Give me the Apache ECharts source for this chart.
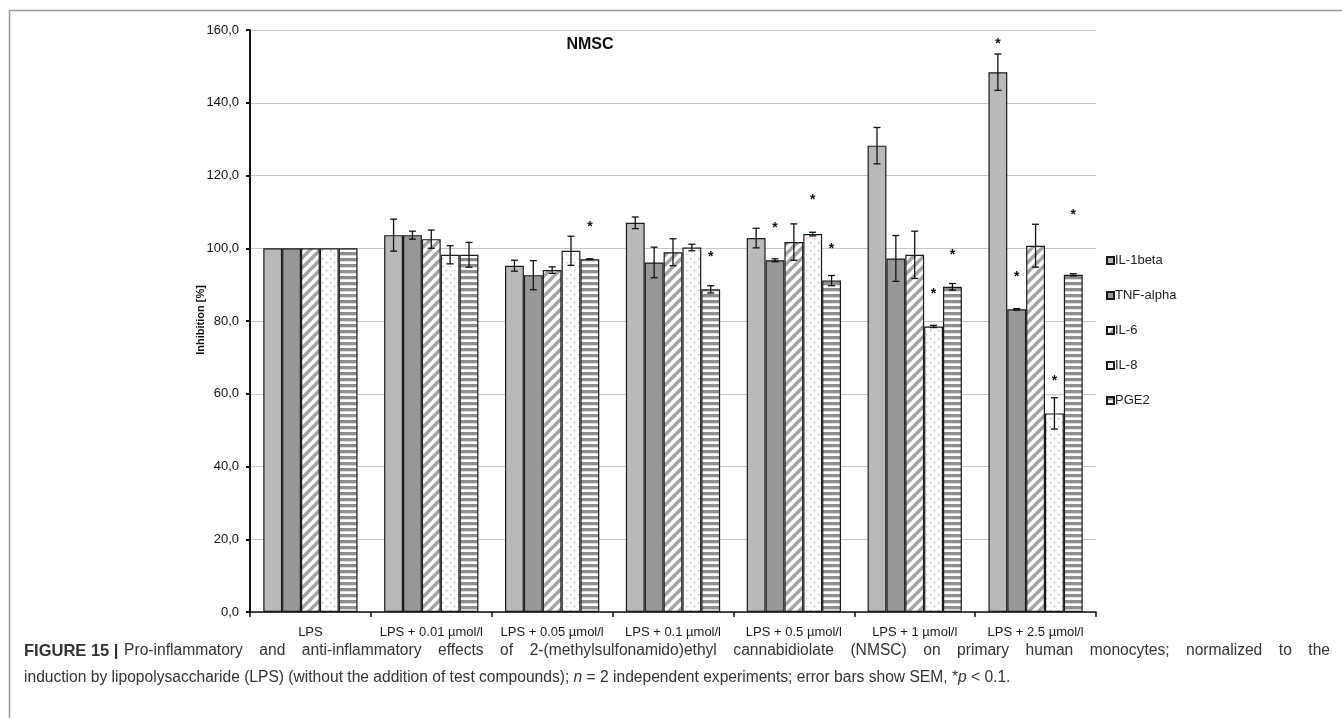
<!DOCTYPE html>
<html>
<head>
<meta charset="utf-8">
<script src="https://cdn.jsdelivr.net/npm/echarts/dist/echarts.min.js"></script>
<style>
html,body{margin:0;padding:0;background:#fff;}
#c{width:1342px;height:718px;}
</style>
</head>
<body>
<div id="c"></div>
<script>
// ---------- data ----------
const categories = ['LPS', 'LPS + 0.01 µmol/l', 'LPS + 0.05 µmol/l', 'LPS + 0.1 µmol/l', 'LPS + 0.5 µmol/l', 'LPS + 1 µmol/l', 'LPS + 2.5 µmol/l'];
const seriesNames = ['IL-1beta', 'TNF-alpha', 'IL-6', 'IL-8', 'PGE2'];
const il1b      = [100, 103.6, 95.2, 107.0, 102.8, 128.2, 148.4];
const il1bErr   = [0, 4.4, 1.5, 1.6, 2.7, 5.0, 5.0];
const tnf       = [100, 103.6, 92.6, 96.1, 96.7, 97.2, 83.2];
const tnfErr    = [0, 1.1, 4.0, 4.2, 0.4, 6.3, 0.2];
const il6       = [100, 102.5, 94.0, 98.9, 101.7, 98.2, 100.7];
const il6Err    = [0, 2.5, 0.9, 3.7, 5.0, 6.5, 5.9];
const il8       = [100, 98.2, 99.3, 100.2, 103.9, 78.5, 54.6];
const il8Err    = [0, 2.5, 4.0, 0.9, 0.5, 0.3, 4.3];
const pge2      = [100, 98.2, 97.0, 88.7, 91.1, 89.4, 92.7];
const pge2Err   = [0, 3.4, 0.1, 1.0, 1.4, 0.9, 0.3];
// significance star heights (value units), null = no star
const il1bStar  = [null, null, null, null, null, null, 156.8];
const tnfStar   = [null, null, null, null, 106.4, null, 92.9];
const il6Star   = [null, null, null, null, null, null, null];
const il8Star   = [null, null, null, null, 114.1, 88.2, 64.3];
const pge2Star  = [null, null, 106.5, 98.4, 100.7, 99.0, 109.9];
const yTicks = [0, 20, 40, 60, 80, 100, 120, 140, 160];
const chartTitle = 'NMSC';
const yName = 'Inhibition [%]';
const captionLabel = 'FIGURE 15 |';
const captionLine1 = 'Pro-inflammatory and anti-inflammatory effects of 2-(methylsulfonamido)ethyl cannabidiolate (NMSC) on primary human monocytes; normalized to the';

const values = [il1b, tnf, il6, il8, pge2];
const errs = [il1bErr, tnfErr, il6Err, il8Err, pge2Err];
const stars = [il1bStar, tnfStar, il6Star, il8Star, pge2Star];

const FONT = '"Liberation Sans", Arial, sans-serif';

// ---------- patterns ----------
function mk(w, h, draw) {
  const c = document.createElement('canvas');
  c.width = w; c.height = h;
  const g = c.getContext('2d');
  g.fillStyle = '#fff'; g.fillRect(0, 0, w, h);
  draw(g);
  return c;
}
const diag = mk(10, 10, g => {
  g.strokeStyle = '#a4a4a4'; g.lineWidth = 3.4;
  g.beginPath();
  g.moveTo(-1, 11); g.lineTo(11, -1);
  g.moveTo(-6, 6); g.lineTo(6, -6);
  g.moveTo(4, 16); g.lineTo(16, 4);
  g.stroke();
});
const dots = mk(8, 8, g => {
  g.fillStyle = '#d4a6a6';
  g.fillRect(2, 2, 1.3, 1.3);
  g.fillRect(6, 6, 1.3, 1.3);
});
const hstripe = mk(6, 6, g => {
  g.fillStyle = '#8e8e8e';
  g.fillRect(0, 0, 6, 3.3);
});
const fills = [
  '#b9b9b9',
  '#979797',
  { image: diag, repeat: 'repeat' },
  { image: dots, repeat: 'repeat' },
  { image: hstripe, repeat: 'repeat' }
];

const CAT_GAP = 0.22;
const N = seriesNames.length;

function barCenter(api, cat, v, k) {
  const bandW = api.size([1, 0])[0];
  const barW = bandW * (1 - CAT_GAP) / N;
  const p = api.coord([cat, v]);
  return { x: p[0] + (k - (N - 1) / 2) * barW, y: p[1] };
}

const series = [];
seriesNames.forEach((name, k) => {
  series.push({
    name: name,
    type: 'bar',
    data: values[k],
    barGap: '0%',
    barCategoryGap: (CAT_GAP * 100) + '%',
    itemStyle: { color: fills[k], borderColor: '#1a1a1a', borderWidth: 1.2 },
    emphasis: { disabled: true },
    z: 2
  });
});
seriesNames.forEach((name, k) => {
  series.push({
    type: 'custom',
    name: name + ' err',
    data: values[k].map((v, i) => [i, v, errs[k][i]]),
    z: 5,
    silent: true,
    renderItem: function (params, api) {
      const cat = api.value(0), v = api.value(1), e = api.value(2);
      if (!e) return null;
      const c = barCenter(api, cat, v, k);
      const top = api.coord([cat, v + e])[1];
      const bot = api.coord([cat, v - e])[1];
      const hw = 3.5;
      const st = { stroke: '#111', lineWidth: 1.3 };
      return {
        type: 'group',
        children: [
          { type: 'line', shape: { x1: c.x, y1: top, x2: c.x, y2: bot }, style: st },
          { type: 'line', shape: { x1: c.x - hw, y1: top, x2: c.x + hw, y2: top }, style: st },
          { type: 'line', shape: { x1: c.x - hw, y1: bot, x2: c.x + hw, y2: bot }, style: st }
        ]
      };
    }
  });
});
seriesNames.forEach((name, k) => {
  series.push({
    type: 'custom',
    name: name + ' sig',
    data: stars[k].map((s, i) => [i, s == null ? '-' : s]),
    z: 6,
    silent: true,
    renderItem: function (params, api) {
      const cat = api.value(0), s = api.value(1);
      if (s == null || isNaN(s)) return null;
      const c = barCenter(api, cat, s, k);
      return {
        type: 'text',
        style: {
          text: '*', x: c.x, y: c.y + 3,
          textAlign: 'center', textVerticalAlign: 'middle',
          font: 'bold 14px ' + FONT, fill: '#111'
        }
      };
    }
  });
});

// ---------- caption (justified first line) ----------
const measureCtx = document.createElement('canvas').getContext('2d');
const CAP_SIZE = 15.6;
const capRegFont = CAP_SIZE + 'px ' + FONT;
const capBoldFont = 'bold 16.5px ' + FONT;
measureCtx.font = capBoldFont;
const labelW = measureCtx.measureText(captionLabel).width;
const capLeft = 24, capRight = 1330, capY1 = 651, capY2 = 678;
const words = captionLine1.split(' ');
measureCtx.font = capRegFont;
const wordWs = words.map(w => measureCtx.measureText(w).width);
const startX = capLeft + labelW + measureCtx.measureText(' ').width * 1.3;
const totalW = wordWs.reduce((a, b) => a + b, 0);
const gap = (capRight - startX - totalW) / (words.length - 1);
const captionGraphics = [
  { type: 'text', x: capLeft, y: capY1, silent: true, style: { text: captionLabel, textVerticalAlign: 'middle', font: capBoldFont, fill: '#333' } }
];
let cx = startX;
words.forEach((w, i) => {
  captionGraphics.push({ type: 'text', x: cx, y: capY1, silent: true, style: { text: w, textVerticalAlign: 'middle', font: capRegFont, fill: '#333' } });
  cx += wordWs[i] + gap;
});
captionGraphics.push({
  type: 'text', x: capLeft, y: capY2, silent: true,
  style: {
    text: '{r|induction by lipopolysaccharide (LPS) (without the addition of test compounds); }{i|n}{r| = 2 independent experiments; error bars show SEM, *}{i|p}{r| < 0.1.}',
    textVerticalAlign: 'middle',
    rich: {
      i: { fontStyle: 'italic', fontSize: CAP_SIZE, fontFamily: FONT, fill: '#333' },
      r: { fontSize: CAP_SIZE, fontFamily: FONT, fill: '#333' }
    }
  }
});

const chart = echarts.init(document.getElementById('c'), null, { renderer: 'canvas' });
chart.setOption({
  animation: false,
  backgroundColor: '#fff',
  textStyle: { fontFamily: FONT },
  grid: { left: 250, right: 246, top: 30, bottom: 106, containLabel: false },
  legend: {
    data: seriesNames,
    orient: 'vertical',
    left: 1101,
    top: 249,
    itemWidth: 7,
    itemHeight: 7,
    itemGap: 22,
    icon: 'rect',
    textStyle: { fontSize: 13, color: '#222', padding: [0, 0, 0, -4] },
    selectedMode: false
  },
  xAxis: {
    type: 'category',
    data: categories,
    axisLine: { lineStyle: { color: '#111', width: 1.5 } },
    axisTick: { show: true, alignWithLabel: false, length: 5, lineStyle: { color: '#111', width: 1.5 } },
    axisLabel: { fontSize: 13, color: '#1a1a1a', margin: 14, interval: 0 },
    splitLine: { show: false }
  },
  yAxis: {
    type: 'value',
    min: yTicks[0],
    max: yTicks[yTicks.length - 1],
    interval: yTicks[1] - yTicks[0],
    axisLine: { show: true, lineStyle: { color: '#111', width: 2 } },
    axisTick: { show: true, length: 4, lineStyle: { color: '#111', width: 2 } },
    axisLabel: {
      fontSize: 13, color: '#111', margin: 11,
      formatter: v => v.toFixed(1).replace('.', ',')
    },
    splitLine: { show: true, lineStyle: { color: '#cbc4c4', width: 1 } }
  },
  series: series,
  graphic: [
    { type: 'line', shape: { x1: 9, y1: 10.5, x2: 1342, y2: 10.5 }, style: { stroke: '#9a9a9a', lineWidth: 1.5 }, silent: true },
    { type: 'line', shape: { x1: 9.5, y1: 10, x2: 9.5, y2: 718 }, style: { stroke: '#9a9a9a', lineWidth: 1.5 }, silent: true },
    { type: 'text', x: 590, y: 45, style: { text: chartTitle, textAlign: 'center', textVerticalAlign: 'middle', font: 'bold 16px ' + FONT, fill: '#111' } },
    { type: 'text', x: 201, y: 320, rotation: Math.PI / 2, style: { text: yName, textAlign: 'center', textVerticalAlign: 'middle', font: 'bold 11px ' + FONT, fill: '#111' } }
  ].concat(captionGraphics)
});
</script>
</body>
</html>
